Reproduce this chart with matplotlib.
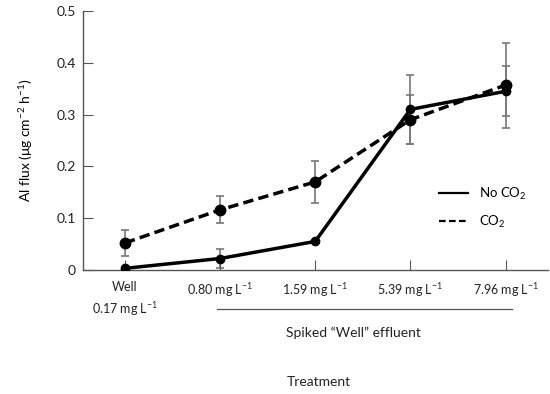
import numpy as np
import matplotlib.pyplot as plt

# categories and data
categories = ["Well\n0.17 mg L$^{-1}$", "0.80 mg L$^{-1}$", "1.59 mg L$^{-1}$",
              "5.39 mg L$^{-1}$", "7.96 mg L$^{-1}$"]
no_co2 = [0.003, 0.022, 0.055, 0.310, 0.345]
no_co2_err = [0.0, 0.019, 0.0, 0.067, 0.048]
co2 = [0.052, 0.116, 0.170, 0.290, 0.357]
co2_err = [0.025, 0.026, 0.040, 0.047, 0.082]

plt.rcParams['font.family'] = ['Lato', 'DejaVu Sans']
plt.rcParams['mathtext.default'] = 'regular'

fig = plt.figure(figsize=(5.5, 3.94), dpi=100)
ax = fig.add_axes([0.151, 0.315, 0.846, 0.657])

x = np.arange(len(categories))
ecol = "#777777"

ax.errorbar(x, no_co2, yerr=no_co2_err, fmt='none', ecolor=ecol,
            elinewidth=1.2, capsize=3, capthick=1.2, zorder=1)
ax.errorbar(x, co2, yerr=co2_err, fmt='none', ecolor=ecol,
            elinewidth=1.2, capsize=3, capthick=1.2, zorder=1)
ax.plot(x, no_co2, '-', color='black', lw=2.5, marker='o', ms=6, zorder=3,
        label="No CO$_2$")
ax.plot(x, co2, '--', color='black', lw=2.5, marker='o', ms=7.5, zorder=2,
        dashes=(3, 1.5), label="CO$_2$")

ax.set_xlim(-0.44, 4.45)
ax.set_ylim(0, 0.5)
ax.set_yticks([0, 0.1, 0.2, 0.3, 0.4, 0.5])
ax.set_yticklabels(["0", "0.1", "0.2", "0.3", "0.4", "0.5"])
ax.set_xticks(x)
ax.set_xticklabels(categories, linespacing=1.5)

for s in ["top", "right"]:
    ax.spines[s].set_visible(False)
for s in ["left", "bottom"]:
    ax.spines[s].set_color("#555555")
    ax.spines[s].set_linewidth(1.0)
ax.tick_params(axis='both', direction='in', length=7, color="#555555",
               labelcolor="#222222")
ax.tick_params(axis='x', labelsize=9, pad=8)
ax.tick_params(axis='y', labelsize=10, pad=5)

ax.set_ylabel("Al flux (μg cm$^{-2}$ h$^{-1}$)", fontsize=10, labelpad=16)

# bracket under spiked treatments
fig.add_artist(plt.Line2D([217 / 550, 512 / 550], [1 - 309 / 394, 1 - 309 / 394],
                          color="#555555", lw=0.9))
fig.text(353 / 550, 1 - 333 / 394, "Spiked \u201cWell\u201d effluent",
         ha='center', va='center', fontsize=10, color="#222222")
fig.text(319 / 550, 1 - 382 / 394, "Treatment",
         ha='center', va='center', fontsize=10, color="#222222")

leg = ax.legend(loc='upper left', bbox_to_anchor=(0.74, 0.37), frameon=False,
                fontsize=9.5, handlelength=2.2, markerscale=0,
                labelspacing=0.9)
for h in leg.get_lines():
    h.set_marker('')
    h.set_linewidth(1.6)

fig.savefig("out.png", dpi=100)
